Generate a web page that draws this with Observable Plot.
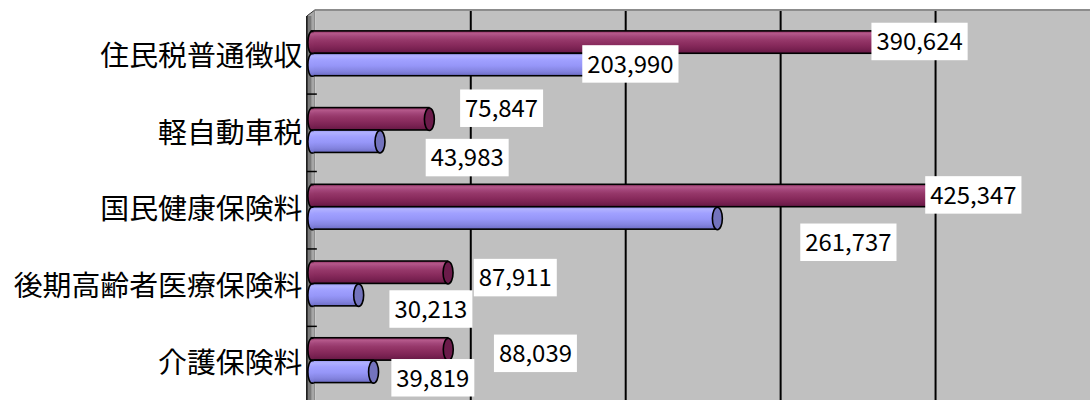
<!DOCTYPE html>
<html><head><meta charset="utf-8">
<script src="https://cdn.jsdelivr.net/npm/d3@7"></script>
<script src="https://cdn.jsdelivr.net/npm/@observablehq/plot@0.6"></script>
<style>
html,body{margin:0;padding:0;background:#fff;overflow:hidden;}
#chart svg{display:block;}
</style></head><body><div id="chart"></div>
<script>
// ---- data ----
const categories = ["住民税普通徴収", "軽自動車税", "国民健康保険料", "後期高齢者医療保険料", "介護保険料"];
const seriesKeys = ["plum", "periwinkle"];
const plumValues = [390624, 75847, 425347, 87911, 88039];
const periwinkleValues = [203990, 43983, 261737, 30213, 39819];
const gridTicks = [100000, 200000, 300000, 400000];
const xDomain = [0, 500000];

const data = categories.flatMap((c, i) => [
  {category: c, series: "plum", value: plumValues[i]},
  {category: c, series: "periwinkle", value: periwinkleValues[i]}
]);

// ---- layout ----
const W = 1094, H = 404, mL = 316.5, mT = 10, mR = 0, mB = 0;
const depth = -4; // 3D depth shift of the bars relative to the back-wall grid
const padInner = 0.42, padOuter = 0.245;
const band = d3.scaleBand().domain(categories).range([mT, H - mB]).paddingInner(padInner).paddingOuter(padOuter).align(0.5);
const bw = band.bandwidth(), step = band.step();
const half = bw / 2, q = bw / 4;
const ns = "http://www.w3.org/2000/svg";
const fmt = d3.format(",");

// label placement as in the original (pixel nudges relative to bar end)
const nudge = {
  "plum|住民税普通徴収": [0, 0], "periwinkle|住民税普通徴収": [0, 0],
  "plum|軽自動車税": [70, -10], "periwinkle|軽自動車税": [85, 17],
  "plum|国民健康保険料": [0, 0], "periwinkle|国民健康保険料": [129, 25],
  "plum|後期高齢者医療保険料": [65, 6], "periwinkle|後期高齢者医療保険料": [70, 15],
  "plum|介護保険料": [85, 5], "periwinkle|介護保険料": [57, 7]
};

const K = 0.5523;
const ellipse = (rx, ry) => ({draw(ctx) {
  ctx.moveTo(rx, 0);
  ctx.bezierCurveTo(rx, ry * K, rx * K, ry, 0, ry);
  ctx.bezierCurveTo(-rx * K, ry, -rx, ry * K, -rx, 0);
  ctx.bezierCurveTo(-rx, -ry * K, -rx * K, -ry, 0, -ry);
  ctx.bezierCurveTo(rx * K, -ry, rx, -ry * K, rx, 0);
  ctx.closePath();
}});
const leftHalf = (rx, ry) => ({draw(ctx) {
  ctx.moveTo(1.8, -ry);
  ctx.lineTo(0, -ry);
  ctx.bezierCurveTo(-rx * K, -ry, -rx, -ry * K, -rx, 0);
  ctx.bezierCurveTo(-rx, ry * K, -rx * K, ry, 0, ry);
  ctx.lineTo(1.8, ry);
}});

function defs() {
  const d = document.createElementNS(ns, "defs");
  const mk = (id, stops) => {
    const g = document.createElementNS(ns, "linearGradient");
    g.setAttribute("id", id); g.setAttribute("x1", 0); g.setAttribute("y1", 0); g.setAttribute("x2", 0); g.setAttribute("y2", 1);
    stops.forEach(([o, c]) => { const s = document.createElementNS(ns, "stop"); s.setAttribute("offset", o); s.setAttribute("stop-color", c); g.appendChild(s); });
    d.appendChild(g);
  };
  mk("gPlum", [[0, "#8e3264"], [0.12, "#b4588a"], [0.25, "#a3467a"], [0.4, "#96386a"], [0.6, "#8a2c5e"], [0.8, "#7a2252"], [1, "#651844"]]);
  mk("gPeri", [[0, "#9a9af2"], [0.12, "#b0b0ff"], [0.3, "#a0a0ff"], [0.55, "#9696f8"], [0.8, "#8484e0"], [1, "#6c6cc4"]]);
  return d;
}

function walls() {
  const g = document.createElementNS(ns, "g");
  const add = (tag, attrs) => { const e = document.createElementNS(ns, tag); for (const k in attrs) e.setAttribute(k, attrs[k]); g.appendChild(e); return e; };
  const L = 316;
  add("line", {x1: L, y1: mT, x2: W, y2: mT, stroke: "#8c8c8c", "stroke-width": 2});
  add("polygon", {points: `${L - 8},${mT + 6} ${L},${mT} ${L},${H} ${L - 8},${H}`, fill: "#a6a6a6"});
  add("rect", {x: L - 7, y: mT + 6, width: 3.5, height: H - mT, fill: "#7a7a7a"});
  add("line", {x1: L - 8, y1: mT + 6, x2: L - 8, y2: H, stroke: "#000", "stroke-width": 1.5});
  add("line", {x1: L - 8, y1: mT + 6, x2: L, y2: mT, stroke: "#333", "stroke-width": 1});
  add("line", {x1: L, y1: mT, x2: L, y2: H, stroke: "#7a7a7a", "stroke-width": 1});
  categories.slice(1).forEach(c => {
    const yb = band(c) - (step - bw) / 2 + 4;
    add("line", {x1: L - 8, y1: yb, x2: L + 2, y2: yb, stroke: "#000", "stroke-width": 1.5});
  });
  return g;
}

const marks = [
  defs,
  Plot.frame({fill: "#c0c0c0"}),
  Plot.ruleX(gridTicks, {stroke: "#000", strokeWidth: 2}),
  walls,
  Plot.axisY({tickSize: 0, tickPadding: 13.5, fontSize: 29, dy: 3, label: null}),
];

for (const s of seriesKeys) {
  const rows = data.filter(d => d.series === s);
  const grad = s === "plum" ? "url(#gPlum)" : "url(#gPeri)";
  const cap = s === "plum" ? "#6b1b4a" : "#7373bd";
  const off = s === "plum" ? -q : q;
  marks.push(Plot.barX(rows, {
    x: "value", y: "category", dx: depth, fill: grad, stroke: "#000", strokeWidth: 1.6,
    insetTop: s === "plum" ? 0 : half, insetBottom: s === "plum" ? half : 0
  }));
  marks.push(Plot.dot(rows, {x: () => 0, y: "category", dx: depth, dy: off, symbol: leftHalf(4, q), fill: grad, stroke: "#000", strokeWidth: 1.6}));
  marks.push(Plot.dot(rows, {x: "value", y: "category", dx: depth, dy: off, symbol: ellipse(5, q), fill: cap, stroke: "#000", strokeWidth: 1.6}));
}

for (const d of data) {
  const [ndx, ndy] = nudge[d.series + "|" + d.category];
  marks.push(Plot.text([d], {
    x: "value", y: "category", text: r => fmt(r.value),
    dx: ndx - 1.5, dy: (d.series === "plum" ? -q : q) + ndy,
    fontSize: 24, fill: "#000", textAnchor: "middle"
  }));
}

const chart = Plot.plot({
  width: W, height: H,
  marginLeft: mL, marginTop: mT, marginRight: mR, marginBottom: mB,
  style: {fontFamily: "'Noto Sans CJK JP', 'Noto Sans', sans-serif", background: "#fff", overflow: "visible"},
  x: {domain: xDomain, axis: null},
  y: {domain: categories, paddingInner: padInner, paddingOuter: padOuter, align: 0.5, axis: null},
  marks
});
document.getElementById("chart").appendChild(chart);

// white boxes behind value labels
chart.querySelectorAll('g[aria-label="text"] text').forEach(t => {
  const b = t.getBBox();
  const r = document.createElementNS(ns, "rect");
  r.setAttribute("x", b.x - 5); r.setAttribute("y", b.y + 0.5);
  r.setAttribute("width", b.width + 10); r.setAttribute("height", b.height + 2.5);
  r.setAttribute("fill", "#fff");
  if (t.getAttribute("transform")) r.setAttribute("transform", t.getAttribute("transform"));
  t.parentNode.insertBefore(r, t);
});
</script>
</body></html>
